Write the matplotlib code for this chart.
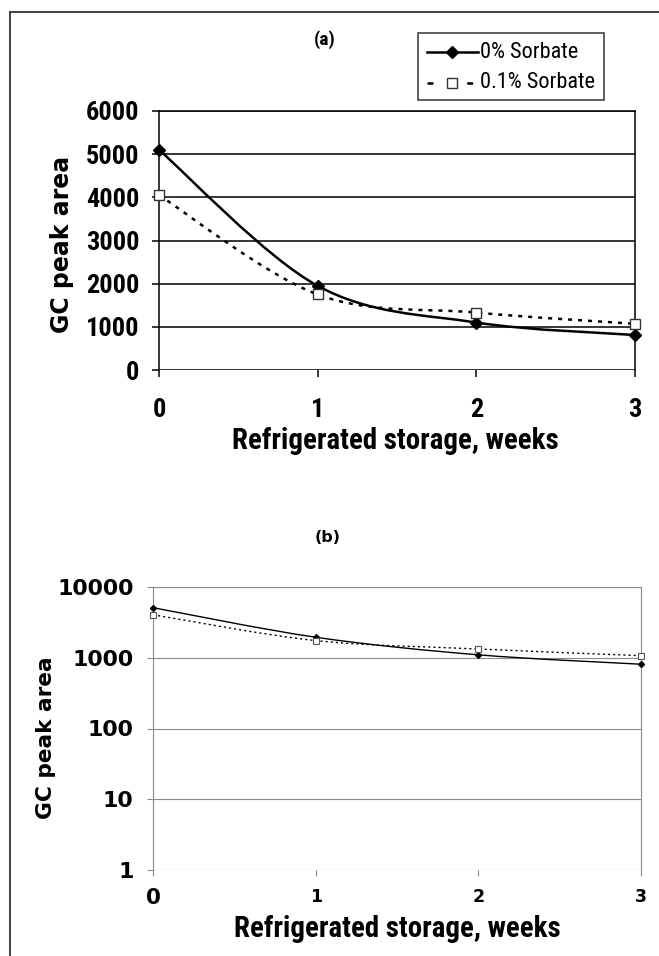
import numpy as np
import matplotlib
matplotlib.use('Agg')
import matplotlib.pyplot as plt
from matplotlib.path import Path
from matplotlib.patches import PathPatch, Rectangle
from matplotlib.lines import Line2D

plt.rcParams['lines.scale_dashes'] = False

# ---------------- data ----------------
weeks = [0, 1, 2, 3]
sorb_0 = [5100, 1950, 1100, 810]
sorb_01 = [4050, 1750, 1330, 1070]
lin_ticks = [0, 1000, 2000, 3000, 4000, 5000, 6000]
log_ticks = [1, 10, 100, 1000, 10000]
lab0 = '0% Sorbate'
lab1 = '0.1% Sorbate'
xlab = 'Refrigerated storage, weeks'
ylab = 'GC peak area'

narrow = ['Roboto Condensed', 'Liberation Sans', 'DejaVu Sans']
wide = ['DejaVu Sans']

W, H = 659.0, 956.0


def fx(px):
    return px / W


def fy(py):
    return 1 - py / H


def smooth_path(x, y, log=False):
    # excel-like smoothed line: catmull-rom -> cubic bezier
    x = np.asarray(x, float)
    y = np.asarray(y, float)
    if log:
        y = np.log10(y)
    px = np.concatenate([[x[0]], x, [x[-1]]])
    py = np.concatenate([[y[0]], y, [y[-1]]])
    verts = [(px[1], py[1])]
    codes = [Path.MOVETO]
    for i in range(1, len(px) - 2):
        c1 = (px[i] + (px[i+1] - px[i-1]) / 6.0, py[i] + (py[i+1] - py[i-1]) / 6.0)
        c2 = (px[i+1] - (px[i+2] - px[i]) / 6.0, py[i+1] - (py[i+2] - py[i]) / 6.0)
        verts += [c1, c2, (px[i+1], py[i+1])]
        codes += [Path.CURVE4] * 3
    verts = np.array(verts)
    if log:
        verts[:, 1] = 10 ** verts[:, 1]
    return Path(verts, codes)


fig = plt.figure(figsize=(6.59, 9.56), dpi=100)

# outer frame (top and left only visible)
fig.add_artist(Line2D([fx(10), 1.0], [fy(12), fy(12)], color='#404040', lw=1.4))
fig.add_artist(Line2D([fx(10), fx(10)], [0, fy(12)], color='#404040', lw=1.4))

# ---------------- (a) linear ----------------
ax1 = fig.add_axes([fx(159), fy(370), (635-159)/W, (370-111)/H])
for v in lin_ticks:
    ax1.axhline(v, color='k', lw=1.1, zorder=1)
dot_a = (0, (2.9, 4.3))
ax1.add_patch(PathPatch(smooth_path(weeks, sorb_0), fill=False, ec='k', lw=1.8, zorder=3))
ax1.add_patch(PathPatch(smooth_path(weeks, sorb_01), fill=False, ec='k', lw=1.8,
                        ls=dot_a, zorder=3))
ax1.plot(weeks, sorb_0, ls='none', marker='D', ms=5.8, mfc='k', mec='k', zorder=5, clip_on=False)
ax1.plot(weeks, sorb_01, ls='none', marker='s', ms=7.2, mfc='white', mec='#333333', mew=1.0,
         zorder=6, clip_on=False)
ax1.set_xlim(0, 3)
ax1.set_ylim(0, 6000)
ax1.set_xticks(weeks)
ax1.set_yticks(lin_ticks)
for sp in ['left', 'right', 'top']:
    ax1.spines[sp].set_color('k')
    ax1.spines[sp].set_linewidth(1.1)
ax1.spines['bottom'].set_visible(False)
ax1.tick_params(axis='y', length=5, width=1.1, pad=9)
ax1.tick_params(axis='x', length=5, width=1.1, pad=15)
for t in ax1.get_xticklabels() + ax1.get_yticklabels():
    t.set_fontfamily(narrow)
    t.set_fontweight('bold')
    t.set_fontsize(19)
ax1.set_xlabel(xlab, fontsize=20.8, fontweight='bold', family=narrow, va='center')
ax1.xaxis.set_label_coords(fx(395), fy(441), transform=fig.transFigure)
ax1.set_ylabel(ylab, fontsize=17, fontweight='bold', family=wide, va='center')
ax1.yaxis.set_label_coords(fx(62), fy(244), transform=fig.transFigure)

# legend box of panel (a)
fig.add_artist(Rectangle((fx(418), fy(100)), (604-418)/W, (100-33)/H, transform=fig.transFigure,
                         fill=True, fc='white', ec='#333333', lw=1.1))
fig.add_artist(Line2D([fx(427), fx(478)], [fy(52), fy(52)], color='k', lw=1.8))
fig.add_artist(Line2D([fx(452)], [fy(52)], ls='none', marker='D', ms=5.8, mfc='k', mec='k'))
fig.add_artist(Line2D([fx(427), fx(474)], [fy(83), fy(83)], color='k', lw=1.8,
                      ls=(0, (4.3, 10.0))))
fig.add_artist(Line2D([fx(452)], [fy(83)], ls='none', marker='s', ms=7.2, mfc='white',
                      mec='#333333', mew=1.0))
fig.text(fx(480), fy(52), lab0, ha='left', va='center', fontsize=16, family=narrow)
fig.text(fx(480), fy(83), lab1, ha='left', va='center', fontsize=16, family=narrow)

fig.text(fx(325), fy(40), '(a)', ha='center', va='center', fontsize=14,
         fontweight='bold', family=narrow)

# ---------------- (b) log ----------------
ax2 = fig.add_axes([fx(153), fy(870), (641-153)/W, (870-587)/H])
ax2.set_yscale('log')
for v in log_ticks:
    ax2.axhline(v, color='#8a8a8a', lw=0.8, zorder=1)
dot_b = (0, (1.5, 2.2))
ax2.add_patch(PathPatch(smooth_path(weeks, sorb_0, log=True), fill=False, ec='k', lw=1.0, zorder=3))
ax2.add_patch(PathPatch(smooth_path(weeks, sorb_01, log=True), fill=False, ec='k', lw=1.0,
                        ls=dot_b, zorder=3))
ax2.plot(weeks, sorb_0, ls='none', marker='D', ms=3.0, mfc='k', mec='k', zorder=5, clip_on=False)
ax2.plot(weeks, sorb_01, ls='none', marker='s', ms=4.0, mfc='white', mec='#555555', mew=0.8,
         zorder=6, clip_on=False)
ax2.set_xlim(0, 3)
ax2.set_ylim(1, 10000)
ax2.set_xticks(weeks)
ax2.set_yticks(log_ticks)
ax2.set_yticklabels([str(v) for v in log_ticks])
ax2.minorticks_off()
for sp in ['left', 'right', 'top']:
    ax2.spines[sp].set_color('#8a8a8a')
    ax2.spines[sp].set_linewidth(0.8)
ax2.spines['bottom'].set_visible(False)
ax2.tick_params(axis='y', length=4, width=0.8, color='#8a8a8a', pad=10)
ax2.tick_params(axis='x', length=4, width=0.8, color='#8a8a8a', pad=9)
for t in ax2.get_yticklabels():
    t.set_fontfamily(wide)
    t.set_fontweight('bold')
    t.set_fontsize(15.8)
for t in ax2.get_xticklabels():
    t.set_fontfamily(wide)
    t.set_fontweight('bold')
    t.set_fontsize(12.5)
ax2.get_xticklabels()[0].set_fontsize(15.5)
ax2.set_xlabel(xlab, fontsize=20.8, fontweight='bold', family=narrow, va='center')
ax2.xaxis.set_label_coords(fx(397), fy(929), transform=fig.transFigure)
ax2.set_ylabel(ylab, fontsize=15.6, fontweight='bold', family=wide, va='center')
ax2.yaxis.set_label_coords(fx(46), fy(738), transform=fig.transFigure)
fig.text(fx(328), fy(538), '(b)', ha='center', va='center', fontsize=11.5,
         fontweight='bold', family=wide)

fig.savefig('out.png', dpi=100)
